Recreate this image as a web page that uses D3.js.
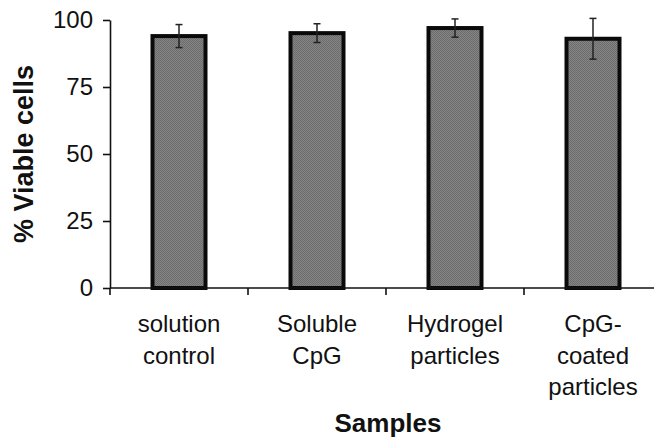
<!DOCTYPE html>
<html>
<head>
<meta charset="utf-8">
<script src="https://cdn.jsdelivr.net/npm/d3@7"></script>
<style>
  html, body { margin: 0; padding: 0; background: #fff; }
  svg { display: block; }
</style>
</head>
<body>
<svg id="chart" width="654" height="442"></svg>
<script>
// Cell viability per sample (mean % and error)
const categories = [
  ["solution", "control"],
  ["Soluble", "CpG"],
  ["Hydrogel", "particles"],
  ["CpG-", "coated", "particles"]
];
const viability = [94, 95.1, 97, 93];
const errors = [4.3, 3.5, 3.4, 7.6];
const yTicks = [0, 25, 50, 75, 100];

const svg = d3.select("#chart");
const plotLeft = 110, plotTop = 20, plotBottom = 288;
const step = 138;

const x = d3.scaleBand()
  .domain(d3.range(categories.length))
  .range([plotLeft, plotLeft + step * categories.length])
  .paddingInner(0).paddingOuter(0);

const y = d3.scaleLinear().domain([0, 100]).range([plotBottom, plotTop]);

// fine dithered grey fill
const defs = svg.append("defs");
const pat = defs.append("pattern")
  .attr("id", "dither")
  .attr("width", 2).attr("height", 2)
  .attr("patternUnits", "userSpaceOnUse");
pat.append("rect").attr("width", 2).attr("height", 2).attr("fill", "#858585");
pat.append("rect").attr("width", 1).attr("height", 1).attr("fill", "#6c6c6c");
pat.append("rect").attr("x", 1).attr("y", 1).attr("width", 1).attr("height", 1).attr("fill", "#6c6c6c");

const font = "'Liberation Sans', Arial, Helvetica, sans-serif";

// y axis
const yAxis = d3.axisLeft(y).tickValues(yTicks).tickSize(7).tickPadding(10).tickSizeOuter(0);
const gy = svg.append("g").attr("transform", `translate(${plotLeft},0)`).call(yAxis);
gy.select(".domain").attr("stroke", "#111").attr("stroke-width", 1.6);
gy.selectAll(".tick line").attr("stroke", "#111").attr("stroke-width", 1.6);
gy.selectAll(".tick text")
  .attr("font-family", font).attr("font-size", 24).attr("fill", "#111");

// bars
const barW = 53;
const g = svg.append("g");
g.selectAll("rect.bar")
  .data(viability)
  .join("rect")
  .attr("class", "bar")
  .attr("x", (d, i) => x(i) + x.bandwidth() / 2 - barW / 2)
  .attr("y", d => y(d))
  .attr("width", barW)
  .attr("height", d => y(0) - y(d))
  .attr("fill", "url(#dither)")
  .attr("stroke", "#0a0a0a")
  .attr("stroke-width", 4);

// error bars
const cap = 3.5;
const eg = g.selectAll("g.err")
  .data(viability.map((v, i) => ({ v, e: errors[i], i })))
  .join("g").attr("class", "err")
  .attr("stroke", "#222").attr("stroke-width", 1.5);
eg.append("line")
  .attr("x1", d => x(d.i) + x.bandwidth() / 2).attr("x2", d => x(d.i) + x.bandwidth() / 2)
  .attr("y1", d => y(d.v + d.e)).attr("y2", d => y(d.v - d.e));
eg.append("line")
  .attr("x1", d => x(d.i) + x.bandwidth() / 2 - cap).attr("x2", d => x(d.i) + x.bandwidth() / 2 + cap)
  .attr("y1", d => y(d.v + d.e)).attr("y2", d => y(d.v + d.e));
eg.append("line")
  .attr("x1", d => x(d.i) + x.bandwidth() / 2 - cap).attr("x2", d => x(d.i) + x.bandwidth() / 2 + cap)
  .attr("y1", d => y(d.v - d.e)).attr("y2", d => y(d.v - d.e));

// x axis with ticks at category boundaries
const gx = svg.append("g");
gx.append("line")
  .attr("x1", plotLeft).attr("x2", x.range()[1])
  .attr("y1", y(0)).attr("y2", y(0))
  .attr("stroke", "#111").attr("stroke-width", 1.6);
gx.selectAll("line.bt")
  .data(d3.range(categories.length + 1))
  .join("line").attr("class", "bt")
  .attr("x1", i => plotLeft + i * x.step()).attr("x2", i => plotLeft + i * x.step())
  .attr("y1", y(0)).attr("y2", y(0) + 7)
  .attr("stroke", "#111").attr("stroke-width", 1.6);

// category labels
const lab = svg.append("g")
  .attr("font-family", font).attr("font-size", 24).attr("fill", "#111")
  .attr("text-anchor", "middle");
categories.forEach((lines, i) => {
  const t = lab.append("text").attr("y", 332);
  lines.forEach((s, k) => {
    t.append("tspan")
      .attr("x", x(i) + x.bandwidth() / 2)
      .attr("y", 332 + k * 31.5)
      .text(s);
  });
});

// axis titles
svg.append("text")
  .attr("transform", `translate(33,${(plotTop + plotBottom) / 2}) rotate(-90)`)
  .attr("text-anchor", "middle")
  .attr("font-family", font).attr("font-weight", "bold").attr("font-size", 27)
  .attr("fill", "#111")
  .text("% Viable cells");

svg.append("text")
  .attr("x", 388).attr("y", 432)
  .attr("text-anchor", "middle")
  .attr("font-family", font).attr("font-weight", "bold").attr("font-size", 26)
  .attr("fill", "#111")
  .text("Samples");
</script>
</body>
</html>
